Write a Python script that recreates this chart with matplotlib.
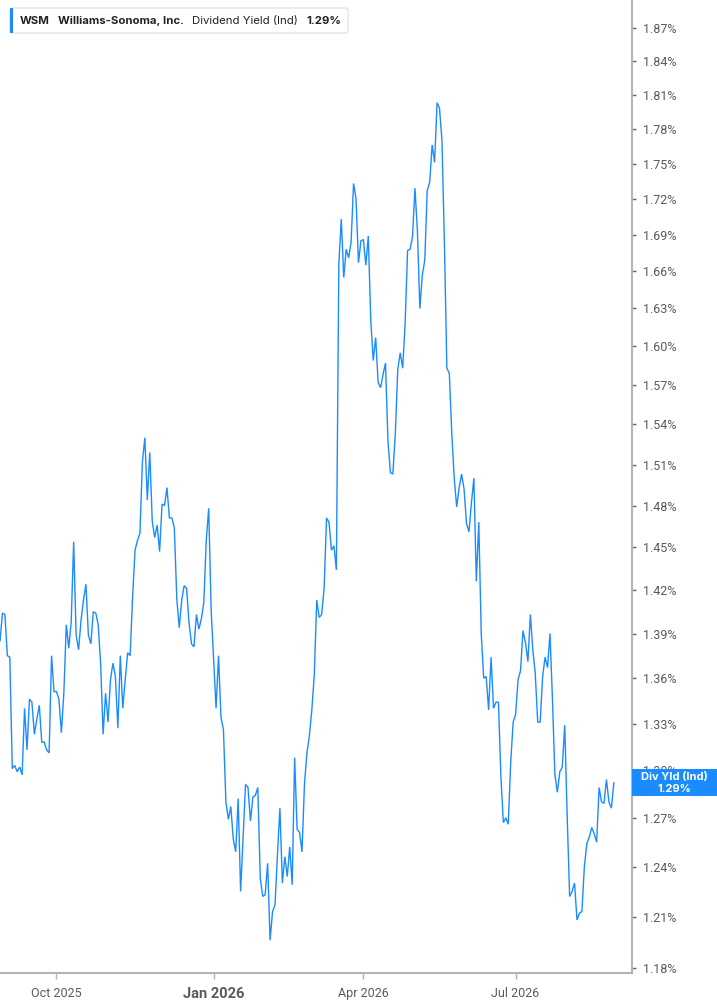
import numpy as np
import pandas as pd
import matplotlib
matplotlib.use('Agg')
import matplotlib.pyplot as plt
from matplotlib.patches import Rectangle, FancyBboxPatch
from matplotlib.transforms import IdentityTransform
from matplotlib.ticker import NullLocator, NullFormatter

# series info
ticker = "WSM"
company = "Williams-Sonoma, Inc."
metric = "Dividend Yield (Ind)"
badge_title = "Div Yld (Ind)"
start_date = "2025-08-28"
# market holidays inside the window (trading days only on the x axis)
holidays = ["2025-09-01", "2025-11-27", "2025-12-25", "2026-01-01", "2026-01-19",
            "2026-02-16", "2026-04-03", "2026-05-25", "2026-06-19", "2026-07-03"]

# daily dividend yield, %
div_yield = [
    1.385, 1.404, 1.403, 1.375, 1.374, 1.301, 1.303, 1.299, 1.302, 1.297,
    1.340, 1.313, 1.346, 1.344, 1.323, 1.333, 1.342, 1.318, 1.318, 1.313,
    1.311, 1.375, 1.351, 1.351, 1.346, 1.324, 1.350, 1.396, 1.380, 1.398,
    1.454, 1.389, 1.379, 1.399, 1.413, 1.424, 1.389, 1.383, 1.405, 1.404,
    1.396, 1.369, 1.323, 1.350, 1.331, 1.359, 1.370, 1.361, 1.327, 1.375,
    1.340, 1.359, 1.377, 1.375, 1.415, 1.448, 1.455, 1.460, 1.512, 1.530,
    1.484, 1.519, 1.469, 1.457, 1.466, 1.447, 1.481, 1.480, 1.493, 1.471,
    1.471, 1.464, 1.414, 1.394, 1.413, 1.423, 1.421, 1.397, 1.383, 1.381,
    1.403, 1.393, 1.400, 1.411, 1.455, 1.478, 1.406, 1.372, 1.340, 1.375,
    1.334, 1.326, 1.280, 1.269, 1.277, 1.257, 1.249, 1.282, 1.225, 1.258,
    1.291, 1.289, 1.268, 1.283, 1.284, 1.289, 1.233, 1.222, 1.223, 1.242,
    1.196, 1.213, 1.217, 1.247, 1.276, 1.230, 1.246, 1.234, 1.252, 1.229,
    1.308, 1.263, 1.261, 1.249, 1.291, 1.311, 1.322, 1.339, 1.362, 1.413,
    1.401, 1.403, 1.421, 1.471, 1.468, 1.448, 1.451, 1.434, 1.666, 1.703,
    1.655, 1.678, 1.671, 1.684, 1.733, 1.720, 1.667, 1.685, 1.686, 1.665,
    1.689, 1.621, 1.589, 1.607, 1.572, 1.568, 1.578, 1.587, 1.528, 1.504,
    1.503, 1.533, 1.582, 1.595, 1.583, 1.618, 1.677, 1.678, 1.688, 1.729,
    1.693, 1.630, 1.657, 1.669, 1.727, 1.734, 1.766, 1.751, 1.803, 1.798,
    1.770, 1.683, 1.583, 1.579, 1.533, 1.500, 1.479, 1.493, 1.503, 1.492,
    1.467, 1.461, 1.482, 1.500, 1.426, 1.468, 1.390, 1.360, 1.361, 1.339,
    1.374, 1.340, 1.344, 1.344, 1.296, 1.267, 1.270, 1.266, 1.305, 1.331,
    1.336, 1.359, 1.365, 1.392, 1.384, 1.371, 1.403, 1.379, 1.363, 1.331,
    1.331, 1.361, 1.374, 1.367, 1.390, 1.346, 1.297, 1.286, 1.299, 1.302,
    1.329, 1.271, 1.222, 1.225, 1.230, 1.208, 1.212, 1.213, 1.240, 1.254,
    1.258, 1.264, 1.260, 1.255, 1.289, 1.280, 1.279, 1.294, 1.280, 1.276,
    1.292,
]

y_ticks = [1.18, 1.21, 1.24, 1.27, 1.30, 1.33, 1.36, 1.39, 1.42, 1.45, 1.48, 1.51,
           1.54, 1.57, 1.60, 1.63, 1.66, 1.69, 1.72, 1.75, 1.78, 1.81, 1.84, 1.87]
x_tick_months = ["2025-10", "2026-01", "2026-04", "2026-07"]
x_tick_labels = ["Oct 2025", "Jan 2026", "Apr 2026", "Jul 2026"]

W, H = 717, 1005
blue = "#1a8cff"
axis_grey = "#b4b4b4"
text_grey = "#5a5a5a"

plt.rcParams['font.family'] = ['Liberation Sans Narrow', 'Roboto', 'DejaVu Sans']

fig = plt.figure(figsize=(W / 100, H / 100), dpi=100)
ax = fig.add_axes([0, 32 / H, 632 / W, 1 - 32 / H])

bday = pd.offsets.CustomBusinessDay(holidays=holidays)
dates = pd.date_range(start_date, periods=len(div_yield), freq=bday)
x = np.arange(len(div_yield))

ax.plot(x, div_yield, color=blue, lw=1.0, solid_joinstyle='miter')

ax.set_yscale('log')
ax.set_ylim(1.177, 1.896)
ax.set_xlim(0, len(div_yield) + 6.4)

# y axis on the right
ax.yaxis.tick_right()
ax.set_yticks(y_ticks)
ax.set_yticklabels([f"{v:.2f}%" for v in y_ticks])
ax.yaxis.set_minor_locator(NullLocator())
ax.yaxis.set_minor_formatter(NullFormatter())
ax.tick_params(axis='y', length=3, width=1, color='#666666', pad=5,
               labelsize=9, labelcolor=text_grey)

# x ticks at the first trading day of each quarter
month_keys = dates.strftime('%Y-%m')
xpos = [int(np.argmax(month_keys == m)) for m in x_tick_months]
ax.set_xticks(xpos)
ax.set_xticklabels(x_tick_labels)
ax.tick_params(axis='x', length=4, width=1, color=axis_grey, pad=6,
               labelsize=9, labelcolor=text_grey)
for lab in ax.get_xticklabels():
    if lab.get_text().startswith("Jan"):
        lab.set_fontweight('bold')
        lab.set_fontsize(10.5)

for s in ['top', 'left']:
    ax.spines[s].set_visible(False)
for s in ['right', 'bottom']:
    ax.spines[s].set_color(axis_grey)
    ax.spines[s].set_linewidth(1.5)

# legend box, top left (pixel coords)
ident = IdentityTransform()
box = FancyBboxPatch((10, H - 33), 338, 25, boxstyle="round,pad=0,rounding_size=3",
                     transform=ident, facecolor='white', edgecolor='#e4e4e4', lw=1, zorder=5)
fig.patches.append(box)
fig.patches.append(Rectangle((10, H - 33), 3, 25, transform=ident, facecolor=blue,
                             edgecolor='none', zorder=6))
leg_font = ['Inter', 'Liberation Sans', 'DejaVu Sans']
yc = H - 20.5
fs = 8.2
fig.text(20, yc, ticker, transform=ident, fontsize=fs, fontweight='bold', color='#222222',
         va='center', family=leg_font, zorder=7)
fig.text(58, yc, company, transform=ident, fontsize=fs, fontweight='bold', color='#222222',
         va='center', family=leg_font, zorder=7)
fig.text(192, yc, metric, transform=ident, fontsize=fs, color='#222222',
         va='center', family=leg_font, zorder=7)
fig.text(306, yc, f"{div_yield[-1]:.2f}%", transform=ident, fontsize=fs, fontweight='bold',
         color='#222222', va='center', family=leg_font, zorder=7)

# last value badge on the right axis (covers the 1.30% label, as in the source)
y_last = ax.transData.transform((0, div_yield[-1]))[1]
fig.patches.append(Rectangle((632, y_last - 13.5), W - 632, 27, transform=ident,
                             facecolor=blue, edgecolor='none', zorder=6))
fig.text(674.5, y_last + 6, badge_title, transform=ident, fontsize=8, fontweight='bold',
         color='white', ha='center', va='center', family=leg_font, zorder=7)
fig.text(674.5, y_last - 6, f"{div_yield[-1]:.2f}%", transform=ident, fontsize=8,
         fontweight='bold', color='white', ha='center', va='center', family=leg_font, zorder=7)

fig.savefig("out.png", dpi=100)
